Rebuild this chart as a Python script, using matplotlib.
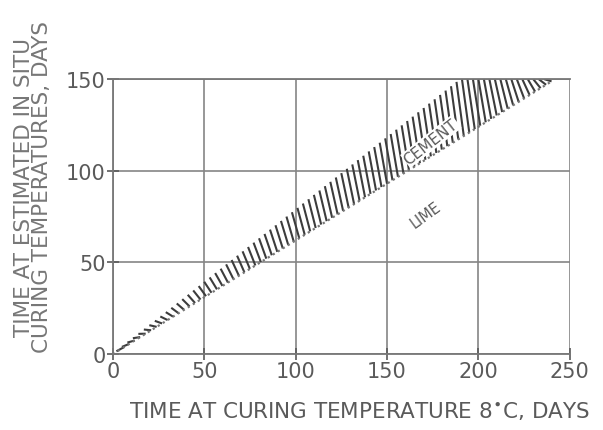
import matplotlib
matplotlib.use('Agg')
import matplotlib.pyplot as plt
import numpy as np
from matplotlib.collections import LineCollection

# band limits (slopes, lines pass through origin)
band_x = np.array([0, 240])
upper_slope = 0.79
lower_slope = 0.62
xticks = [0, 50, 100, 150, 200, 250]
yticks = [0, 50, 100, 150]

ink = '#5a5a5a'
fig = plt.figure(figsize=(6.03, 4.31), dpi=100)
ax = fig.add_axes([0.187, 0.176, 0.758, 0.638])
ax.set_xlim(0, 250)
ax.set_ylim(0, 150)

ax.grid(True, color='#858585', linewidth=1.2)
ax.set_axisbelow(True)
ax.set_xticks(xticks)
ax.set_yticks(yticks)
ax.tick_params(direction='inout', length=8, width=1.2, colors=ink,
               labelsize=15, pad=1)
ax.spines['right'].set_visible(False)
for s in ['left', 'bottom', 'top']:
    ax.spines[s].set_color('#777777')
    ax.spines[s].set_linewidth(1.3)

# hatch strokes along the band
xs = np.arange(2, 240, 3.0)
segs = []
for x in xs:
    top = min(upper_slope * x, 150)
    bot = lower_slope * (x + 4)
    if bot > 150:
        continue
    segs.append([(x, top), (x + 4, bot)])
lc = LineCollection(segs, colors='#3c3c3c', linewidths=1.5)
ax.add_collection(lc)
ax.plot(band_x, lower_slope * band_x, color='#777777', linestyle=':',
        linewidth=1.6)

ax.text(174, 116, 'CEMENT', rotation=38, color=ink, fontsize=11,
        ha='center', va='center',
        bbox=dict(boxstyle='square,pad=0.05', facecolor='white',
                  edgecolor='none'))
ax.text(171, 76, 'LIME', rotation=36, color=ink, fontsize=10.5,
        ha='center', va='center')

ax.set_xlabel('TIME AT CURING TEMPERATURE 8$^{\\bullet}$C, DAYS',
              fontsize=15.5, color=ink)
ax.xaxis.set_label_coords(0.54, -0.165)
ax.set_ylabel('TIME AT ESTIMATED IN SITU\nCURING TEMPERATURES, DAYS',
              fontsize=15.5, color='#777777', linespacing=0.9)
ax.yaxis.set_label_coords(-0.133, 0.61)

plt.savefig('out.png', dpi=100)
